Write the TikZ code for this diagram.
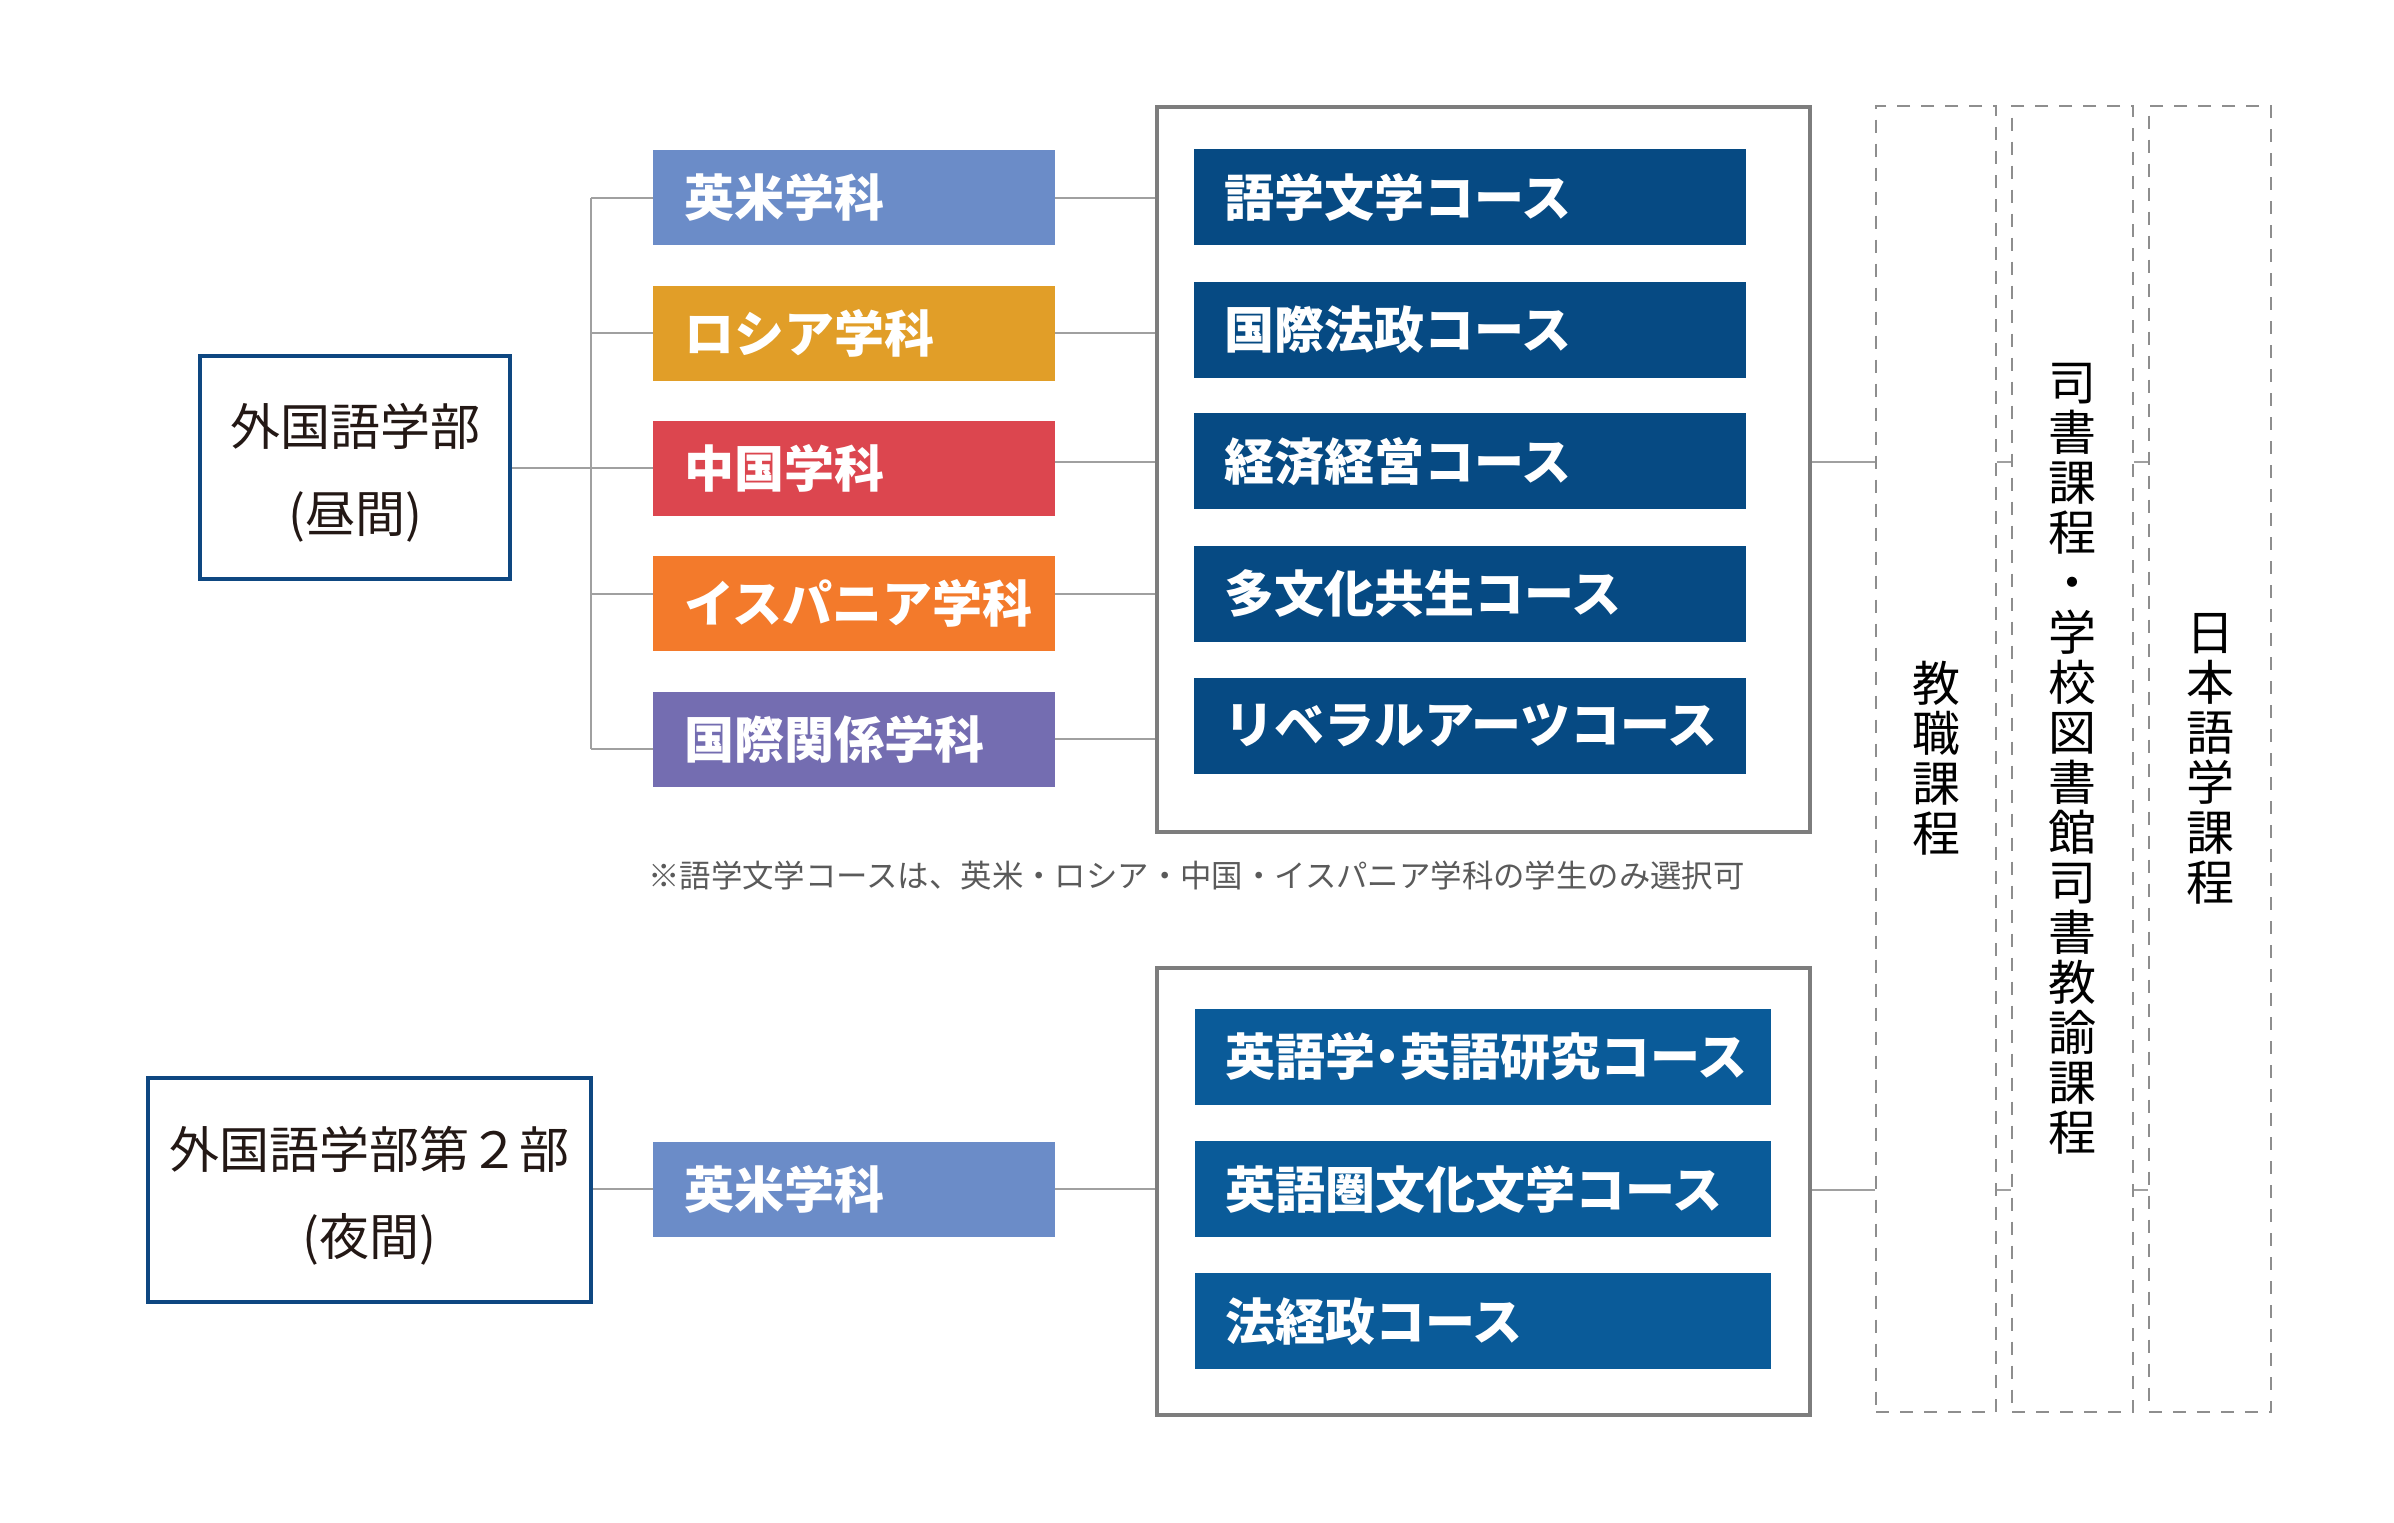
\documentclass[tikz,border=0pt]{standalone}
\usepackage{fontspec}
\setmainfont{Noto Sans CJK JP}
\definecolor{eibei}{HTML}{6B8CC8}
\definecolor{russia}{HTML}{E19E28}
\definecolor{china}{HTML}{DC464F}
\definecolor{spain}{HTML}{F37A2B}
\definecolor{intl}{HTML}{746DB1}
\definecolor{courseA}{HTML}{064A83}
\definecolor{courseB}{HTML}{0A5B99}
\definecolor{navy}{HTML}{0E4781}
\definecolor{linegray}{HTML}{A0A0A0}
\definecolor{framegray}{HTML}{7D7D7D}
\definecolor{dashgray}{HTML}{8E8E8E}
\definecolor{ink}{HTML}{231815}
\definecolor{notegray}{HTML}{5A5A5A}
\tikzset{
  dept/.style={anchor=north west, minimum height=95pt, text width=402pt,
    inner xsep=0pt, inner ysep=0pt, align=left, text=white,
    font=\fontsize{50}{60}\selectfont\bfseries},
  coursebox/.style={anchor=north west, minimum height=96pt,
    inner xsep=0pt, inner ysep=0pt, align=left, text=white,
    font=\fontsize{50}{60}\selectfont\bfseries},
  facbox/.style={draw=navy, line width=4pt, fill=white},
  factext/.style={align=center, text=ink, inner sep=0pt,
    font=\fontsize{50}{87}\selectfont},
  framebox/.style={draw=framegray, line width=3.5pt, anchor=north west},
  dbox/.style={draw=dashgray, line width=2pt, dash pattern=on 13pt off 11pt,
    align=center, text=black, inner sep=0pt, font=\fontsize{48}{50}\selectfont},
  conn/.style={draw=linegray, line width=2pt}
}
\begin{document}
\begin{tikzpicture}[x=1pt,y=-1pt]
\useasboundingbox (0,0) rectangle (2394,1523);
\fill[white] (0,0) rectangle (2394,1523);

% ---------- upper: day faculty ----------
\node[facbox, minimum width=310pt, minimum height=223pt] (fac1) at (355,467.5) {};
\node[factext] (fac1t) at ([yshift=-5pt]fac1.center) {外国語学部\\(昼間)};

\node[dept, fill=eibei]  (d1) at (653,150) {\hspace*{31pt}英米学科};
\node[dept, fill=russia] (d2) at (653,285.5) {\hspace*{31pt}ロシア学科};
\node[dept, fill=china]  (d3) at (653,420.5) {\hspace*{31pt}中国学科};
\node[dept, fill=spain]  (d4) at (653,556) {\hspace*{31pt}イスパニア学科};
\node[dept, fill=intl]   (d5) at (653,691.5) {\hspace*{31pt}国際関係学科};

\node[framebox, minimum width=653pt, minimum height=725pt] (fr1) at (1155,105) {};

\node[coursebox, fill=courseA, text width=552pt] (c1) at (1194,149) {\hspace*{30pt}語学文学コース};
\node[coursebox, fill=courseA, text width=552pt] (c2) at (1194,281.5) {\hspace*{30pt}国際法政コース};
\node[coursebox, fill=courseA, text width=552pt] (c3) at (1194,413) {\hspace*{30pt}経済経営コース};
\node[coursebox, fill=courseA, text width=552pt] (c4) at (1194,545.5) {\hspace*{30pt}多文化共生コース};
\node[coursebox, fill=courseA, text width=552pt] (c5) at (1194,677.5) {\hspace*{30pt}リベラルアーツコース};

\node[anchor=west, text=notegray, font=\fontsize{31.4}{36}\selectfont, inner sep=0pt] (note) at (648,876)
  {※語学文学コースは、英米・ロシア・中国・イスパニア学科の学生のみ選択可};

% bracket connectors
\coordinate (bt) at (591,197.5);
\coordinate (bb) at (591,749);
\draw[conn] (bt) -- (bb);
\draw[conn] (fac1.east) -- (fac1.east -| bt);
\draw[conn] (d1.west) -- (d1.west -| bt);
\draw[conn] (d2.west) -- (d2.west -| bt);
\draw[conn] (d3.west) -- (d3.west -| bt);
\draw[conn] ([yshift=10pt]d4.west) -- ([yshift=10pt]d4.west -| bt);
\draw[conn] ([yshift=-10pt]d5.west) -- ([yshift=-10pt]d5.west -| bt);
\draw[conn] (d1.east) -- (d1.east -| fr1.west);
\draw[conn] (d2.east) -- (d2.east -| fr1.west);
\draw[conn] ([yshift=6.5pt]d3.east) -- ([yshift=6.5pt]d3.east -| fr1.west);
\draw[conn] ([yshift=10pt]d4.east) -- ([yshift=10pt]d4.east -| fr1.west);
\draw[conn] (d5.east) -- (d5.east -| fr1.west);

% ---------- lower: evening faculty ----------
\node[facbox, minimum width=443pt, minimum height=224pt] (fac2) at (369.5,1190) {};
\node[factext] (fac2t) at ([yshift=-6pt]fac2.center) {外国語学部第２部\\(夜間)};

\node[dept, fill=eibei] (e1) at (653,1141.5) {\hspace*{31pt}英米学科};

\node[framebox, minimum width=653pt, minimum height=447pt] (fr2) at (1155,966) {};

\node[coursebox, fill=courseB, text width=576pt] (g1) at (1195,1008.5) {\hspace*{30pt}英語学\kern-0.25em・\kern-0.25em英語研究コース};
\node[coursebox, fill=courseB, text width=576pt] (g2) at (1195,1141) {\hspace*{30pt}英語圏文化文学コース};
\node[coursebox, fill=courseB, text width=576pt] (g3) at (1195,1273) {\hspace*{30pt}法経政コース};

\draw[conn] (fac2.east |- e1.west) -- (e1.west);
\draw[conn] (e1.east) -- (e1.east -| fr2.west);

% ---------- dashed programme columns ----------
\node[dbox, minimum width=120pt, minimum height=1306pt] (kbox) at (1936,758.5)
  {教\\職\\課\\程};
\node[dbox, minimum width=121pt, minimum height=1306pt] (sbox) at (2072.5,758.5)
  {司\\書\\課\\程\\・\\学\\校\\図\\書\\館\\司\\書\\教\\諭\\課\\程};
\node[dbox, minimum width=122pt, minimum height=1306pt] (nbox) at (2210,758.5)
  {日\\本\\語\\学\\課\\程};

\coordinate (up) at (1808,462);
\coordinate (lo) at (1808,1190);
\draw[conn] (fr1.east |- up) -- (kbox.west |- up);
\draw[conn] (kbox.east |- up) -- (sbox.west |- up);
\draw[conn] (sbox.east |- up) -- (nbox.west |- up);
\draw[conn] (fr2.east |- lo) -- (kbox.west |- lo);
\draw[conn] (kbox.east |- lo) -- (sbox.west |- lo);
\draw[conn] (sbox.east |- lo) -- (nbox.west |- lo);
\end{tikzpicture}
\end{document}
